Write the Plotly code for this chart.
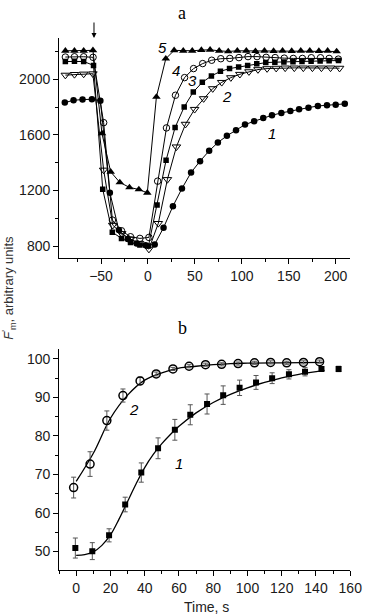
import plotly.graph_objects as go

# ---------------- Panel a data ----------------
t1 = [-88.6, -79.3, -69.7, -59.7, -50.7, -40.6, -31, -21.5, -12, -2.5, 7.2, 16.6, 26.6, 36.2, 45.9, 55.5,
      65.2, 74.5, 84.1, 93.8, 103.4, 113.1, 122.8, 132.1, 142.1, 151.7, 161, 171, 181, 190.7, 200, 209.7]
y1 = [1832, 1849, 1854, 1856, 1846, 1184, 915, 850, 818, 805, 812, 932, 1087, 1214, 1329, 1411,
      1485, 1545, 1593, 1634, 1674, 1698, 1722, 1741, 1758, 1772, 1784, 1796, 1808, 1813, 1816, 1823]

t2 = [-88, -78.3, -68.5, -58.7, -47.2, -37.5, -28, -18.5, -9, 1, 11, 20.7, 30.3, 40, 49.7, 59.3, 69,
      78.6, 88.3, 97.9, 107.6, 117.2, 126.9, 136.6, 146.2, 155.9, 165.5, 175.2, 184.8, 194.5, 204.1]
y2 = [2030, 2035, 2038, 2040, 1347, 950, 890, 850, 820, 778, 963, 1279, 1514, 1677, 1784, 1861, 1933,
      1978, 2012, 2036, 2055, 2070, 2077, 2080, 2082, 2082, 2082, 2082, 2082, 2082, 2080]

t3 = [-88, -78.3, -68.5, -58, -48.2, -38, -28.2, -18.6, -8.6, 0.5, 9.7, 19.3, 28.9, 38.6, 48.3, 57.9,
      67.6, 77.2, 86.9, 96.6, 106.2, 115.9, 125.5, 135.2, 144.8, 154.5, 164.1, 173.8, 183.4, 193, 203]
y3 = [2128, 2130, 2128, 2100, 1209, 900, 855, 825, 808, 800, 1095, 1418, 1653, 1801, 1909, 1978,
      2024, 2057, 2077, 2089, 2100, 2112, 2120, 2123, 2125, 2127, 2128, 2130, 2132, 2133, 2135]

t4 = [-88, -78.3, -68.5, -58.5, -47.2, -37.9, -28.2, -18.6, -8.6, 1, 10.3, 19.7, 29.3, 39, 48.6, 58.3,
      67.9, 77.6, 87.2, 96.9, 106.6, 116.2, 125.9, 135.5, 145.2, 154.8, 164.5, 174, 183.8, 193, 202.8]
y4 = [2160, 2162, 2162, 2158, 1688, 987, 910, 867, 855, 862, 1267, 1650, 1885, 2012, 2077, 2113,
      2137, 2148, 2150, 2156, 2163, 2163, 2158, 2156, 2152, 2150, 2150, 2155, 2155, 2150, 2145]

t5 = [-88, -78.3, -68.5, -58.6, -49, -39.7, -30, -19.7, -9.7, -0.7, 9, 19, 27.9, 37.6, 47.2, 56.9,
      66.2, 75.9, 85.5, 95.2, 104.8, 114.5, 124.1, 133.8, 143.4, 153.1, 162.8, 172.4, 182.1, 191.4, 201]
y5 = [2205, 2205, 2205, 2208, 1610, 1334, 1258, 1222, 1207, 1183, 1873, 2148, 2208, 2205, 2205, 2210,
      2212, 2205, 2200, 2205, 2205, 2202, 2205, 2203, 2205, 2203, 2205, 2205, 2203, 2205, 2200]

# ---------------- Panel b data ----------------
tb1 = [-0.5, 9.4, 19.2, 28.6, 38, 47.8, 57.6, 66.6, 76.4, 85.8, 95.4, 105, 114.4, 124.2, 133.6, 143.2, 153.2]
b1 = [50.9, 50.1, 54.2, 62.2, 70.5, 76.8, 81.6, 85.5, 88.3, 90.6, 92.5, 93.9, 95.0, 96.0, 96.7, 97.4, 97.4]
e1 = [2.6, 2.2, 1.7, 1.9, 2.5, 2.7, 2.7, 2.6, 2.6, 2.4, 2.0, 1.8, 1.4, 1.2, 1.1, 0.5, 0.7]

tb2 = [-1.5, 8.1, 17.9, 27.3, 37.3, 46.7, 56.5, 65.9, 75.5, 84.9, 94.5, 104.1, 113.5, 122.9, 132.7, 142.1]
b2 = [66.6, 72.7, 84.0, 90.5, 94.3, 96.1, 97.4, 98.1, 98.5, 98.6, 98.8, 99.0, 99.1, 99.0, 99.1, 99.3]
e2 = [2.7, 3.2, 2.5, 1.7, 1.0, 0.5, 0.4, 0.4, 0.4, 0.4, 0.4, 0.4, 0.4, 0.4, 0.4, 0.4]

fit_t1 = [0, 5, 10, 15, 20, 25, 30, 35, 40, 45, 50, 55, 60, 70, 80, 90, 100, 110, 120, 130, 145]
fit1 = [49.0, 49.2, 49.9, 51.6, 54.3, 58.4, 63.0, 67.6, 71.8, 75.2, 78.0, 80.4, 82.5, 86.0, 88.7,
        90.8, 92.5, 93.9, 95.1, 96.0, 97.0]
fit_t2 = [0, 10, 20, 30, 40, 50, 60, 70, 80, 90, 100, 120, 144]
fit2 = [68.2, 75.5, 84.6, 90.6, 94.5, 96.4, 97.6, 98.1, 98.5, 98.8, 98.9, 99.0, 99.1]

W, H = 379, 616
X0, X1 = 61, 361.7

def py(p):
    return (H - p) / H

fig = go.Figure()

LINE = dict(color="black", width=1)
series_a = [
    (t5, y5, dict(symbol="triangle-up", size=7.5, color="black")),
    (t4, y4, dict(symbol="circle-open", size=6.5, color="black", line=dict(width=1))),
    (t3, y3, dict(symbol="square", size=5.5, color="black")),
    (t2, y2, dict(symbol="triangle-down-open", size=7.5, color="black", line=dict(width=1))),
    (t1, y1, dict(symbol="circle", size=6.5, color="black")),
]
for tx, ty, mk in series_a:
    fig.add_trace(go.Scatter(x=tx, y=ty, mode="lines+markers", line=LINE, marker=mk,
                             xaxis="x", yaxis="y", showlegend=False))

# panel b
fig.add_trace(go.Scatter(x=fit_t1, y=fit1, mode="lines", line=dict(color="black", width=1.3, shape="spline"),
                         xaxis="x2", yaxis="y2", showlegend=False))
fig.add_trace(go.Scatter(x=fit_t2, y=fit2, mode="lines", line=dict(color="black", width=1.3, shape="spline"),
                         xaxis="x2", yaxis="y2", showlegend=False))
fig.add_trace(go.Scatter(x=tb1, y=b1, mode="markers",
                         marker=dict(symbol="square", size=6, color="black"),
                         error_y=dict(type="data", array=e1, color="#555", thickness=1, width=2.5),
                         xaxis="x2", yaxis="y2", showlegend=False))
fig.add_trace(go.Scatter(x=tb2, y=b2, mode="markers",
                         marker=dict(symbol="circle-open", size=8, color="black", line=dict(width=1.5)),
                         error_y=dict(type="data", array=e2, color="#555", thickness=1, width=2.5),
                         xaxis="x2", yaxis="y2", showlegend=False))

TICKFONT = dict(family="Liberation Sans, Arial, sans-serif", size=14, color="#1a1a1a")
common = dict(showline=True, linecolor="black", linewidth=1, ticks="outside", ticklen=5,
              tickcolor="black", tickwidth=1, showgrid=False, zeroline=False, tickfont=TICKFONT)

fig.update_layout(
    width=W, height=H, margin=dict(l=0, r=0, t=0, b=0),
    paper_bgcolor="white", plot_bgcolor="white",
    xaxis=dict(domain=[X0 / W, X1 / W], range=[-94.7, 215.5], anchor="y", tick0=0, dtick=50,
               minor=dict(dtick=25, ticks="outside", ticklen=3, tickcolor="black"), **common),
    yaxis=dict(domain=[py(258), py(38)], range=[714, 2297], anchor="x", tick0=0, dtick=400,
               minor=dict(dtick=200, ticks="outside", ticklen=3, tickcolor="black"), **common),
    xaxis2=dict(domain=[X0 / W, X1 / W], range=[-10, 160], anchor="y2", tick0=0, dtick=20,
                minor=dict(dtick=10, ticks="outside", ticklen=3, tickcolor="black"), **common),
    yaxis2=dict(domain=[py(570), py(349.3)], range=[45.2, 102.5], anchor="x2", tick0=0, dtick=10,
                minor=dict(dtick=5, ticks="outside", ticklen=3, tickcolor="black"), **common),
)

ann = []
SERIF = dict(family="Liberation Serif, Times New Roman, serif", size=18, color="black")
ann.append(dict(text="a", x=188.3 / W, y=py(1), xref="paper", yref="paper", showarrow=False,
                font=SERIF, xanchor="center", yanchor="top"))
ann.append(dict(text="b", x=188.3 / W, y=py(328), xref="paper", yref="paper", showarrow=False,
                font=SERIF, xanchor="center", yanchor="middle"))
ann.append(dict(text="Time, s", x=213.3 / W, y=py(607), xref="paper", yref="paper", showarrow=False,
                font=dict(family="Liberation Sans, Arial, sans-serif", size=14, color="#222"),
                xanchor="center", yanchor="middle"))
ann.append(dict(text="<i>F</i><sup>'</sup><sub>m</sub>, arbitrary units", x=9 / W, y=py(288),
                xref="paper", yref="paper", showarrow=False, textangle=-90,
                font=dict(family="Liberation Sans, Arial, sans-serif", size=13, color="#333"),
                xanchor="center", yanchor="middle"))

ITAL = dict(family="Liberation Sans, Arial, sans-serif", size=15, color="black")
for txt, lx, ly in [("5", 15.5, 2232), ("4", 30.4, 2060), ("3", 47.6, 1993), ("2", 83.8, 1873), ("1", 132, 1609)]:
    ann.append(dict(text="<i>" + txt + "</i>", x=lx, y=ly, xref="x", yref="y", showarrow=False, font=ITAL))
for txt, lx, ly in [("2", 33.9, 86.8), ("1", 60.2, 72.9)]:
    ann.append(dict(text="<i>" + txt + "</i>", x=lx, y=ly, xref="x2", yref="y2", showarrow=False, font=ITAL))

# arrow marking the addition time
ann.append(dict(text="", x=-57.5, y=2297, xref="x", yref="y", showarrow=True, ax=0, ay=-17,
                arrowhead=2, arrowsize=1, arrowwidth=1, arrowcolor="black", standoff=0))

fig.update_layout(annotations=ann)
fig.write_html("out.html", config={"displayModeBar": False},
               post_script="document.body.style.margin='0';document.body.style.overflow='hidden';")
